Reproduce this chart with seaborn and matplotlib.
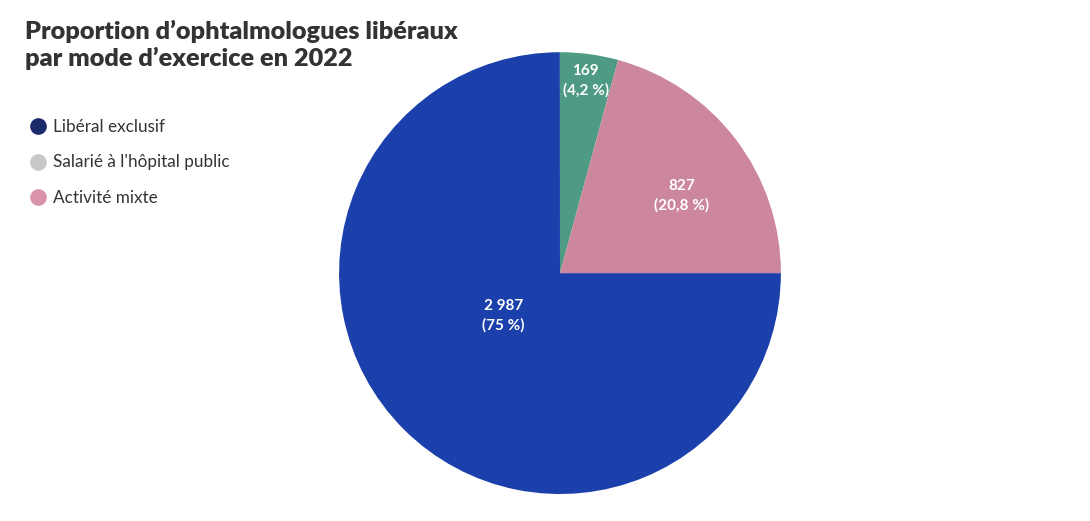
import numpy as np
import matplotlib
matplotlib.use("Agg")
import matplotlib.pyplot as plt
import seaborn as sns
from matplotlib.lines import Line2D

# Data
categories = ["Libéral exclusif", "Salarié à l'hôpital public", "Activité mixte"]
values = [2987, 169, 827]
value_labels = ["2 987", "169", "827"]
pct_labels = ["(75 %)", "(4,2 %)", "(20,8 %)"]
slice_colors = ["#1b3fab", "#4f9a84", "#cc879c"]
legend_colors = ["#1b2a6b", "#c8c8c8", "#d993a8"]
title = "Proportion d\u2019ophtalmologues libéraux\npar mode d\u2019exercice en 2022"

sns.set_theme(style="white")
plt.rcParams['font.family'] = ['Lato', 'DejaVu Sans']

fig = plt.figure(figsize=(10.9, 5.21), dpi=100)
ax = fig.add_axes([0.311, 0.0518, 0.4055, 0.848])

wedges, _ = ax.pie(values, colors=slice_colors, startangle=0, counterclock=False,
                   radius=1.0, wedgeprops=dict(linewidth=0))
ax.set_xlim(-1, 1)
ax.set_ylim(-1, 1)
ax.set_aspect("equal")
ax.axis("off")

label_dist = [0.32, 0.88, 0.65]
angle_shift = [-8, 0, -5]
for w, vl, pl, d, s in zip(wedges, value_labels, pct_labels, label_dist, angle_shift):
    ang = np.deg2rad((w.theta1 + w.theta2) / 2 + s)
    x, y = d * np.cos(ang), d * np.sin(ang)
    ax.text(x, y, f"{vl}\n{pl}", ha="center", va="center", color="white",
            fontsize=11, fontweight="bold", linespacing=1.45)

fig.text(0.023, 0.962, title, ha="left", va="top", fontsize=18.2, fontweight="heavy",
         color="#333333", linespacing=1.2)

handles = [Line2D([0], [0], marker="o", linestyle="none", markersize=12,
                  markerfacecolor=c, markeredgecolor="none") for c in legend_colors]
leg = fig.legend(handles, categories, loc="upper left", bbox_to_anchor=(0.02, 0.785),
                 frameon=False, fontsize=12.3, handletextpad=0.35, labelspacing=1.15,
                 handlelength=1.1, borderaxespad=0)
for t in leg.get_texts():
    t.set_color("#333333")

fig.savefig("out.png", dpi=100, facecolor="white")
